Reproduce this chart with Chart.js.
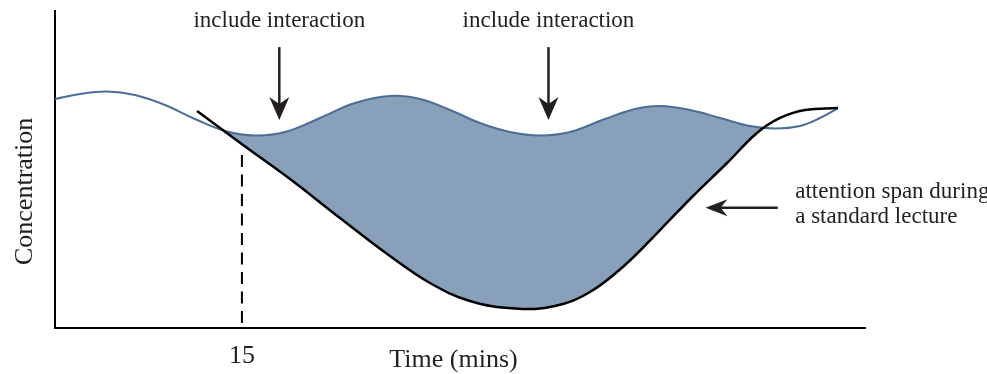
<!DOCTYPE html>
<html>
<head>
<meta charset="utf-8">
<script src="https://cdn.jsdelivr.net/npm/chart.js@4/dist/chart.umd.min.js"></script>
<style>
  html, body { margin: 0; padding: 0; background: #ffffff; }
  #wrap { width: 987px; height: 374px; }
</style>
</head>
<body>
<div id="wrap"><canvas id="c" width="987" height="374"></canvas></div>
<script>
// ---- data (time in minutes, concentration on a 0-100 scale) ----
const interactionTime = [0, 2.01, 4.17, 6.42, 8.83, 11.23, 13.64, 16.05, 18.46, 21.27, 24.07, 26.88, 29.29, 31.7, 34.1, 36.51, 38.92, 41.33, 44.14, 46.54, 48.55, 50.96, 53.37, 55.77, 57.78, 59.78, 61.39, 62.83];
const interactionConc = [72.24, 73.82, 74.61, 73.5, 70.35, 65.93, 62.15, 60.73, 61.83, 66.25, 70.98, 73.19, 72.24, 68.77, 64.67, 61.83, 60.73, 61.83, 65.93, 69.09, 70.03, 68.77, 66.25, 63.72, 62.93, 63.72, 66.25, 69.4];

const lectureTime = [11.4, 15.09, 18.86, 22.87, 26.88, 30.09, 33.3, 36.91, 40.12, 42.93, 45.74, 48.55, 51.2, 53.93, 56.33, 58.18, 60.19, 62.83];
const lectureConc = [68.45, 57.73, 47.0, 34.7, 22.71, 14.2, 8.52, 6.15, 6.94, 11.36, 19.87, 30.91, 41.64, 52.05, 61.51, 66.25, 68.77, 69.4];

const markerTime = [15, 15];
const markerConc = [54.6, 0];

const xTickValues = [15];
const xTickLabels = ['15'];

const xTitle = 'Time (mins)';
const yTitle = 'Concentration';

// annotation anchors in data units
const noteTexts = ['include interaction', 'include interaction'];
const noteTime = [18.0, 39.6];
const noteConc = [95.0, 95.0];
const downArrowTime = [18.0, 39.6];
const downArrowFrom = [88.6, 88.6];
const downArrowTo = [65.6, 65.6];
const sideArrowConc = 37.9;
const sideArrowFrom = 58.0;
const sideArrowTo = 52.2;
const sideTextLines = ['attention span during', 'a standard lecture'];
const sideTextTime = 59.4;
const sideTextConc = [41.0, 33.1];

// ---- build ----
const toPts = (xs, ys) => xs.map((x, i) => ({ x: x, y: ys[i] }));
const INK = '#231f20';
const SERIF = "'Liberation Serif', 'Times New Roman', serif";

function arrowHead(ctx, tipX, tipY, dirX, dirY, len, half, notch) {
  const px = -dirY, py = dirX;
  ctx.beginPath();
  ctx.moveTo(tipX, tipY);
  ctx.lineTo(tipX - dirX * len + px * half, tipY - dirY * len + py * half);
  ctx.lineTo(tipX - dirX * notch, tipY - dirY * notch);
  ctx.lineTo(tipX - dirX * len - px * half, tipY - dirY * len - py * half);
  ctx.closePath();
  ctx.fill();
}

const annotations = {
  id: 'annotations',
  afterDraw(chart) {
    const ctx = chart.ctx;
    const xs = chart.scales.x, ys = chart.scales.y;
    const area = chart.chartArea;
    ctx.save();
    ctx.fillStyle = INK;
    ctx.strokeStyle = INK;

    // notes above
    ctx.font = '23px ' + SERIF;
    ctx.textAlign = 'center';
    ctx.textBaseline = 'alphabetic';
    noteTexts.forEach((t, i) => {
      ctx.fillText(t, xs.getPixelForValue(noteTime[i]), ys.getPixelForValue(noteConc[i]));
    });

    // down arrows
    ctx.lineWidth = 2.5;
    downArrowTime.forEach((t, i) => {
      const x = xs.getPixelForValue(t);
      const y0 = ys.getPixelForValue(downArrowFrom[i]);
      const y1 = ys.getPixelForValue(downArrowTo[i]);
      ctx.beginPath();
      ctx.moveTo(x, y0);
      ctx.lineTo(x, y1 - 14);
      ctx.stroke();
      arrowHead(ctx, x, y1, 0, 1, 23, 10, 16);
    });

    // side arrow
    const sy = ys.getPixelForValue(sideArrowConc);
    const sx0 = xs.getPixelForValue(sideArrowFrom);
    const sx1 = xs.getPixelForValue(sideArrowTo);
    ctx.beginPath();
    ctx.moveTo(sx0, sy);
    ctx.lineTo(sx1 + 14, sy);
    ctx.stroke();
    arrowHead(ctx, sx1, sy, -1, 0, 22, 8.5, 15);

    // side text
    ctx.textAlign = 'left';
    sideTextLines.forEach((t, i) => {
      ctx.fillText(t, xs.getPixelForValue(sideTextTime), ys.getPixelForValue(sideTextConc[i]));
    });

    // axis titles
    ctx.font = '26px ' + SERIF;
    ctx.textAlign = 'center';
    ctx.fillText(xTitle, xs.getPixelForValue(31.98), area.bottom + 39);

    ctx.translate(area.left - 23, ys.getPixelForValue(43.1));
    ctx.rotate(-Math.PI / 2);
    ctx.fillText(yTitle, 0, 0);
    ctx.restore();
  }
};

new Chart(document.getElementById('c'), {
  type: 'line',
  data: {
    datasets: [
      {
        label: 'with interaction',
        data: toPts(interactionTime, interactionConc),
        borderColor: '#4d6d95',
        borderWidth: 2,
        pointRadius: 0,
        tension: 0.4,
        fill: { target: 1, above: 'rgb(137,160,187)', below: 'rgba(0,0,0,0)' },
        order: 2
      },
      {
        label: 'standard lecture',
        data: toPts(lectureTime, lectureConc),
        borderColor: '#000000',
        borderWidth: 2.5,
        pointRadius: 0,
        tension: 0.4,
        fill: false,
        order: 1
      },
      {
        label: '15 min mark',
        data: toPts(markerTime, markerConc),
        borderColor: '#000000',
        borderWidth: 2,
        borderDash: [12, 7.5],
        borderCapStyle: 'butt',
        pointRadius: 0,
        fill: false,
        order: 0
      }
    ]
  },
  options: {
    responsive: false,
    animation: false,
    devicePixelRatio: 1,
    layout: { padding: { top: 11, right: 122, bottom: 0, left: 0 } },
    plugins: {
      legend: { display: false },
      tooltip: { enabled: false },
      title: { display: false }
    },
    scales: {
      x: {
        type: 'linear',
        min: 0,
        max: 65,
        grid: { display: false, drawTicks: false },
        border: { display: true, color: '#000000', width: 2 },
        afterBuildTicks: (s) => { s.ticks = xTickValues.map(v => ({ value: v })); },
        afterFit: (s) => { s.height = 46; },
        ticks: {
          autoSkip: false,
          maxRotation: 0,
          padding: 12.6,
          color: INK,
          font: { family: SERIF, size: 26 },
          callback: (v) => { const i = xTickValues.indexOf(v); return i >= 0 ? xTickLabels[i] : ''; }
        }
      },
      y: {
        type: 'linear',
        min: 0,
        max: 100,
        grid: { display: false, drawTicks: false },
        border: { display: true, color: '#000000', width: 2 },
        ticks: { display: false },
        afterFit: (s) => { s.width = 55; }
      }
    }
  },
  plugins: [annotations]
});
</script>
</body>
</html>
